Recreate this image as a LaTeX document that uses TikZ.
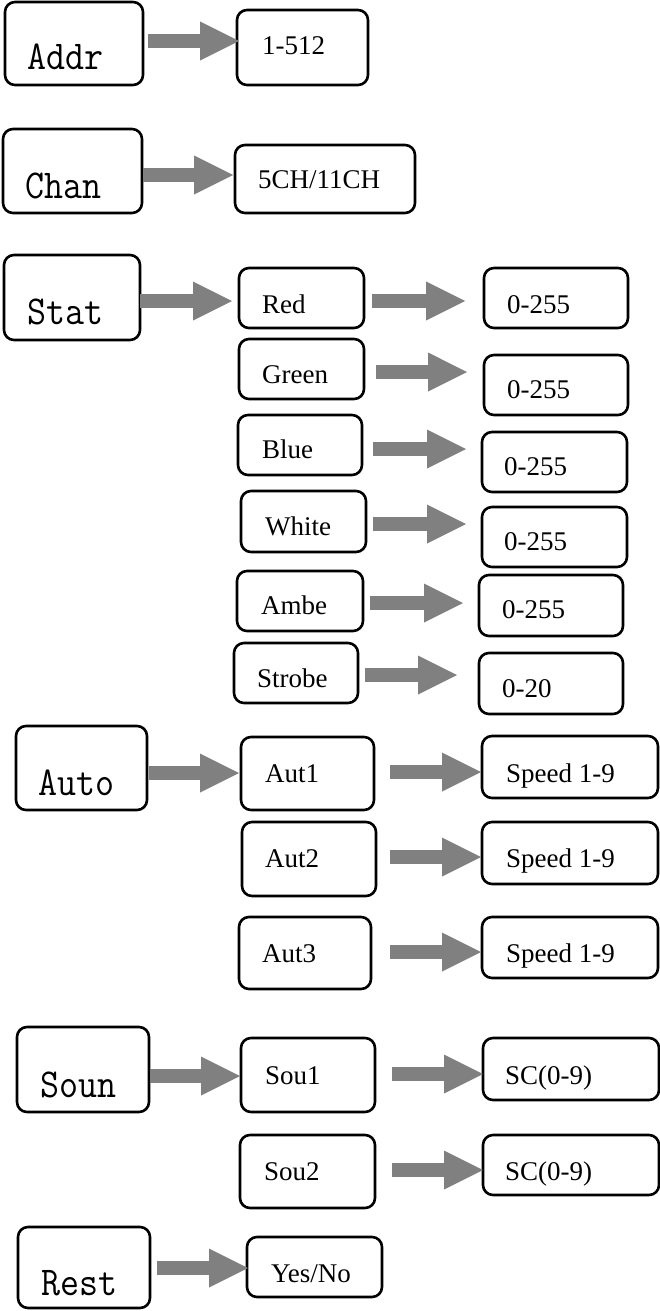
\documentclass[tikz,border=0pt]{standalone}
\usepackage{fontspec}
\setmainfont{Liberation Serif}
\newfontfamily\monof[FakeStretch=0.9]{Latin Modern Mono}
\usetikzlibrary{calc}
\definecolor{arrowgray}{HTML}{808080}
\tikzset{
  box/.style={draw=black, line width=2.6pt, rounded corners=10pt, inner sep=0pt, fill=white},
  lab/.style={font=\fontsize{27}{30}\selectfont, inner sep=0pt, anchor=base west},
  mlab/.style={font=\monof\fontsize{41}{43}\selectfont, inner sep=0pt, anchor=base west},
  fatarrow/.style={fill=arrowgray, draw=none}
}
\newcommand\bx[5]{\node[box, minimum width={#4-#2}, minimum height={#5-#3}] (#1) at ({(#2+#4)/2},{(#3+#5)/2}) {};}
\newcommand\fatarr[2]{\fill[fatarrow] ($(#1)+(0,-6.8)$) -- ($(#2)+(-39,-6.8)$) -- ($(#2)+(-39,-19.5)$) -- (#2) -- ($(#2)+(-39,19.5)$) -- ($(#2)+(-39,6.8)$) -- ($(#1)+(0,6.8)$) -- cycle;}
\begin{document}
\begin{tikzpicture}[x=1pt,y=-1pt]
\useasboundingbox (0,0) rectangle (660,1311);
\fill[white] (0,0) rectangle (660,1311);
% main boxes
\bx{addr}{5}{2}{143}{85}
\bx{chan}{3}{129}{142}{213}
\bx{stat}{4}{255}{140}{340}
\bx{auto}{16}{726}{147}{810}
\bx{soun}{17}{1027}{149}{1112}
\bx{rest}{18}{1227}{150}{1308}
% sub boxes
\bx{v512}{237}{10}{368}{85}
\bx{vch}{235}{145}{415}{213}
\bx{red}{239}{268}{364}{328}
\bx{vred}{484}{268}{628}{328}
\bx{green}{239}{339}{364}{399}
\bx{vgreen}{484}{355}{628}{415}
\bx{blue}{238}{415}{362}{475}
\bx{vblue}{482}{432}{627}{492}
\bx{white}{241}{491}{366}{552}
\bx{vwhite}{482}{507}{627}{567}
\bx{ambe}{237}{571}{363}{631}
\bx{vambe}{479}{575}{623}{636}
\bx{strobe}{234}{643}{358}{703}
\bx{vstrobe}{479}{653}{623}{714}
\bx{aut1}{241}{737}{374}{810}
\bx{sp1}{482}{736}{658}{798}
\bx{aut2}{242}{822}{376}{896}
\bx{sp2}{482}{822}{658}{884}
\bx{aut3}{239}{917}{371}{989}
\bx{sp3}{482}{917}{658}{978}
\bx{sou1}{241}{1038}{375}{1112}
\bx{sc1}{483}{1038}{659}{1100}
\bx{sou2}{240}{1135}{375}{1208}
\bx{sc2}{483}{1135}{659}{1195}
\bx{yesno}{247}{1237}{382}{1297}
% labels
\node[mlab] (taddr) at (27,70) {Addr};
\node[mlab] (tchan) at (25,198) {Chan};
\node[mlab] (tstat) at (27,324) {Stat};
\node[mlab] (tauto) at (38,795) {Auto};
\node[mlab] (tsoun) at (40,1097) {Soun};
\node[mlab] (trest) at (41,1295) {Rest};
\node[lab] (t512) at (262,55) {1-512};
\node[lab] (tch) at (258,188) {5CH/11CH};
\node[lab] (tred) at (262,313) {Red};
\node[lab] (tvred) at (507,313) {0-255};
\node[lab] (tgreen) at (262,383) {Green};
\node[lab] (tvgreen) at (507,398) {0-255};
\node[lab] (tblue) at (262,458) {Blue};
\node[lab] (tvblue) at (504,475) {0-255};
\node[lab] (twhite) at (265,535) {White};
\node[lab] (tvwhite) at (504,550) {0-255};
\node[lab] (tambe) at (261,614) {Ambe};
\node[lab] (tvambe) at (502,618) {0-255};
\node[lab] (tstrobe) at (257,687) {Strobe};
\node[lab] (tvstrobe) at (502,697) {0-20};
\node[lab] (taut1) at (265,782) {Aut1};
\node[lab] (tsp1) at (506,782) {Speed 1-9};
\node[lab] (taut2) at (265,867) {Aut2};
\node[lab] (tsp2) at (506,867) {Speed 1-9};
\node[lab] (taut3) at (262,962) {Aut3};
\node[lab] (tsp3) at (506,962) {Speed 1-9};
\node[lab] (tsou1) at (265,1084) {Sou1};
\node[lab] (tsc1) at (505,1084) {SC(0-9)};
\node[lab] (tsou2) at (264,1180) {Sou2};
\node[lab] (tsc2) at (505,1180) {SC(0-9)};
\node[lab] (tyesno) at (271,1282) {Yes/No};
% arrow end points
\coordinate (addr-s) at (148,41);   \coordinate (v512-t) at (239,41);
\coordinate (chan-s) at (143,175);  \coordinate (vch-t) at (233,175);
\coordinate (stat-s) at (140,301);  \coordinate (red-t) at (232,301);
\coordinate (red-s) at (372,301);   \coordinate (vred-t) at (465,301);
\coordinate (green-s) at (376,372); \coordinate (vgreen-t) at (467,372);
\coordinate (blue-s) at (373,449);  \coordinate (vblue-t) at (466,449);
\coordinate (white-s) at (373,524); \coordinate (vwhite-t) at (466,524);
\coordinate (ambe-s) at (370,603);  \coordinate (vambe-t) at (463,603);
\coordinate (strobe-s) at (365,675); \coordinate (vstrobe-t) at (457,675);
\coordinate (auto-s) at (149,773);  \coordinate (aut1-t) at (239,773);
\coordinate (aut1-s) at (390,772);  \coordinate (sp1-t) at (481,772);
\coordinate (aut2-s) at (390,857);  \coordinate (sp2-t) at (481,857);
\coordinate (aut3-s) at (390,952);  \coordinate (sp3-t) at (481,952);
\coordinate (soun-s) at (150,1076); \coordinate (sou1-t) at (240,1076);
\coordinate (sou1-s) at (392,1074); \coordinate (sc1-t) at (483,1074);
\coordinate (sou2-s) at (392,1170); \coordinate (sc2-t) at (483,1170);
\coordinate (rest-s) at (157,1268); \coordinate (yesno-t) at (248,1268);
% arrows
\fatarr{addr-s}{v512-t}
\fatarr{chan-s}{vch-t}
\fatarr{stat-s}{red-t}
\fatarr{red-s}{vred-t}
\fatarr{green-s}{vgreen-t}
\fatarr{blue-s}{vblue-t}
\fatarr{white-s}{vwhite-t}
\fatarr{ambe-s}{vambe-t}
\fatarr{strobe-s}{vstrobe-t}
\fatarr{auto-s}{aut1-t}
\fatarr{aut1-s}{sp1-t}
\fatarr{aut2-s}{sp2-t}
\fatarr{aut3-s}{sp3-t}
\fatarr{soun-s}{sou1-t}
\fatarr{sou1-s}{sc1-t}
\fatarr{sou2-s}{sc2-t}
\fatarr{rest-s}{yesno-t}
\end{tikzpicture}
\end{document}
